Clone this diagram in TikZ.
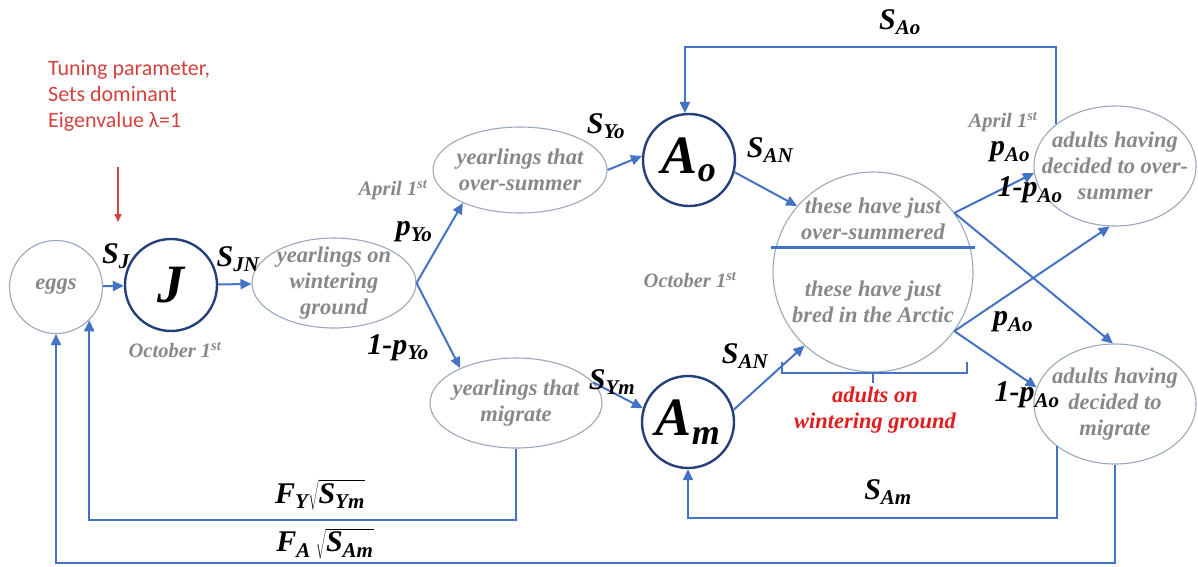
\documentclass[tikz,border=0pt]{standalone}
\usepackage{fontspec}
\setmainfont{Liberation Serif}
\newfontfamily\timesfont{Liberation Serif}
\newfontfamily\notefont{Carlito}
\usetikzlibrary{arrows.meta,shapes.geometric,positioning}

\definecolor{arrowblue}{HTML}{4472C4}
\definecolor{ringnavy}{HTML}{243F7A}
\definecolor{textgray}{HTML}{888888}
\definecolor{ovalgray}{HTML}{9AA8BC}
\definecolor{notered}{HTML}{D2423E}
\definecolor{winterred}{HTML}{E01E1E}

\newcommand{\stagefont}{\timesfont\fontsize{22.5}{26}\selectfont\bfseries\itshape}
\newcommand{\ratefont}{\timesfont\fontsize{30}{32}\selectfont\bfseries\itshape}
\newcommand{\classfont}{\timesfont\fontsize{54}{54}\selectfont\bfseries\itshape}
\newcommand{\datefont}{\timesfont\fontsize{20.5}{22}\selectfont\bfseries\itshape}
\newcommand{\rlab}[2]{#1\textsubscript{#2}}
\newcommand{\ordst}{1\textsuperscript{st}}

\tikzset{
  stage/.style={ellipse, draw=ovalgray, line width=1.1pt, inner sep=0pt},
  stagetext/.style={text=textgray, font=\stagefont, align=center, inner sep=0pt},
  class/.style={circle, draw=ringnavy, line width=2.4pt, minimum size=92pt, inner sep=0pt, font=\classfont},
  flow/.style={draw=arrowblue, line width=2pt, -{Triangle[length=11pt,width=10pt]}},
  rate/.style={font=\ratefont, inner sep=1pt},
  date/.style={text=textgray, font=\datefont, inner sep=0pt},
  note/.style={text=notered, font=\notefont\fontsize{22}{26}\selectfont, align=left, inner sep=0pt},
}

\begin{document}
\begin{tikzpicture}[x=1pt, y=-1pt]
  \useasboundingbox (0,0) rectangle (1198,566);

  % juveniles
  \node[stage, circle, minimum size=93pt, font=\stagefont, text=textgray] (eggs) at (56,287) {eggs};
  \node[class] (J) at (171,285) {J};
  \node[date] (octJ) at (175,350) {October \ordst};
  \node[stage, minimum width=164pt, minimum height=90pt,
        label={[stagetext]center:{yearlings on\\wintering\\ground}}] (ywint) at (334,283) {};

  % yearlings split
  \node[stage, minimum width=174pt, minimum height=86pt,
        label={[stagetext]center:{yearlings that\\over-summer}}] (yover) at (520,170) {};
  \node[stage, minimum width=172pt, minimum height=90pt,
        label={[stagetext]center:{yearlings that\\migrate}}] (ymig) at (516,403) {};
  \node[date] (aprY) at (393,190) {April \ordst};

  % adult classes
  \node[class] (Ao) at (689,160) {A\textsubscript{\fontsize{36}{36}\selectfont o}};
  \node[class] (Am) at (688,422) {A\textsubscript{\fontsize{36}{36}\selectfont m}};
  \node[date] (octA) at (690,280) {October \ordst};

  % adults on wintering ground
  \node[stage, circle, minimum size=200pt] (adwin) at (873,272) {};
  \node[stagetext] (justover) at (873,219) {these have just\\over-summered};
  \node[stagetext] (justbred) at (873,302) {these have just\\bred in the Arctic};
  \draw[arrowblue, line width=3pt] (771,247) -- (975,247);           % divider
  \draw[arrowblue, line width=2pt] (782,362) -- (782,373) -- (967,373) -- (967,362)
        (873,373) -- (873,383);                                         % bracket
  \node[stagetext, text=winterred] (adwinlbl) at (875,410) {adults on\\wintering ground};

  % adult decisions
  \node[stage, minimum width=162pt, minimum height=120pt,
        label={[stagetext]center:{adults having\\decided to over-\\summer}}] (aover) at (1115,166) {};
  \node[stage, minimum width=162pt, minimum height=120pt,
        label={[stagetext]center:{adults having\\decided to\\migrate}}] (amig) at (1115,404) {};
  \node[date] (aprA) at (1003,122) {April \ordst};

  % tuning note
  \node[note, anchor=north west] (tune) at (48,60) {Tuning parameter,\\Sets dominant\\Eigenvalue λ=1};
  \coordinate (tunetop) at (118,167);
  \coordinate (tunetip) at (118,222);
  \draw[notered, line width=1.6pt, -{Triangle[length=8pt,width=7pt]}] (tunetop) -- (tunetip);

  % forward flows
  \draw[flow] (eggs) -- (J);
  \draw[flow] (J) -- (ywint);
  \draw[flow] (ywint.east) -- (yover.210);
  \draw[flow] (ywint.east) -- (ymig.148);
  \draw[flow] (yover.east) -- (Ao.175);
  \draw[flow] (ymig.15) -- (Am.163);
  \draw[flow] (Ao.-15) -- (adwin.139);
  \draw[flow] (Am.15) -- (adwin.227);
  \draw[flow] (adwin.36) -- (aover.185);
  \draw[flow] (adwin.36) -- (amig.92);
  \draw[flow] (adwin.-36) -- (aover.265);
  \draw[flow] (adwin.-36) -- (amig.168);

  % return loops
  \draw[flow] (aover.145) -- (aover.145 |- 0,47) -| (Ao.95);
  \draw[flow] (amig.216) -- (amig.216 |- 0,518) -| (Am.south);
  \draw[flow] (ymig.south) -- (ymig.south |- 0,520) -| (eggs.-45);
  \draw[flow] (amig.south) -- (amig.south |- 0,563) -| (eggs.south);

  % rates
  \node[rate] (sj)   at (116,256) {\rlab{S}{J}};
  \node[rate] (sjn)  at (238,259) {\rlab{S}{JN}};
  \node[rate] (pyo)  at (414,232) {\rlab{p}{Yo}};
  \node[rate] (qyo)  at (398,348) {\rlab{1-p}{Yo}};
  \node[rate] (syo)  at (606,126) {\rlab{S}{Yo}};
  \node[rate] (sym)  at (612,382) {\rlab{S}{Ym}};
  \node[rate] (sano) at (770,150) {\rlab{S}{AN}};
  \node[rate] (sanm) at (745,356) {\rlab{S}{AN}};
  \node[rate] (sao)  at (900,22)  {\rlab{S}{Ao}};
  \node[rate] (sam)  at (888,492) {\rlab{S}{Am}};
  \node[rate] (pao)  at (1010,152) {\rlab{p}{Ao}};
  \node[rate] (qao)  at (1030,190) {\rlab{1-p}{Ao}};
  \node[rate] (pal)  at (1013,322) {\rlab{p}{Ao}};
  \node[rate] (qal)  at (1027,395) {\rlab{1-p}{Ao}};
  \node[rate] (fy)   at (320,495) {\rlab{F}{Y}$\sqrt{\mbox{\rlab{S}{Ym}}}$};
  \node[rate] (fa)   at (325,544) {\rlab{F}{A}\,$\sqrt{\mbox{\rlab{S}{Am}}}$};
\end{tikzpicture}
\end{document}
